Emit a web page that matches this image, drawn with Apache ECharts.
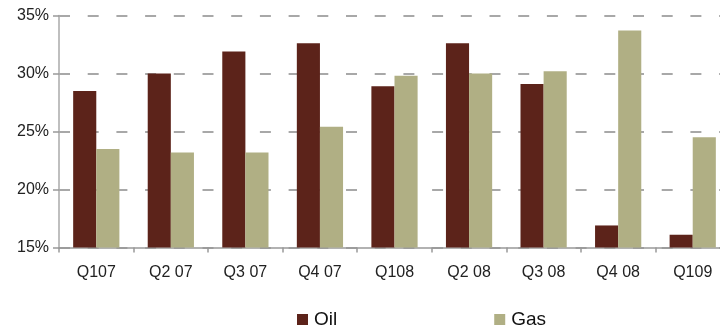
<!DOCTYPE html>
<html>
<head>
<meta charset="utf-8">
<script src="https://cdn.jsdelivr.net/npm/echarts@6/dist/echarts.min.js"></script>
<style>
html,body{margin:0;padding:0;background:#fff;width:720px;height:327px;overflow:hidden;}
#chart{width:731px;height:327px;}
</style>
</head>
<body>
<div id="chart"></div>
<script>
var categories = ['Q107', 'Q2 07', 'Q3 07', 'Q4 07', 'Q108', 'Q2 08', 'Q3 08', 'Q4 08', 'Q109'];
var oilValues = [28.5, 30.0, 31.9, 32.6, 28.9, 32.6, 29.1, 16.9, 16.1];
var gasValues = [23.5, 23.2, 23.2, 25.4, 29.8, 30.0, 30.2, 33.7, 24.5];
var seriesNames = ['Oil', 'Gas'];
var yMin = 15, yMax = 35, yStep = 5;

var chart = echarts.init(document.getElementById('chart'), null, {renderer: 'canvas'});
var font = 'Liberation Sans, Arial, sans-serif';
chart.setOption({
  animation: false,
  grid: {left: 59, top: 15.5, right: 1, bottom: 79.5, containLabel: false},
  legend: {
    data: seriesNames,
    left: 292, top: 305,
    itemWidth: 11, itemHeight: 11, itemGap: 157,
    icon: 'rect',
    textStyle: {fontFamily: font, fontSize: 19, color: '#111', padding: [0, 0, 0, 1]}
  },
  xAxis: {
    type: 'category',
    data: categories,
    boundaryGap: true,
    axisLine: {lineStyle: {color: '#999', width: 1.5}},
    axisTick: {show: true, length: 5, lineStyle: {color: '#999', width: 1.5}},
    axisLabel: {fontFamily: font, fontSize: 16, color: '#222', margin: 17, interval: 0}
  },
  yAxis: {
    type: 'value',
    min: yMin, max: yMax, interval: yStep,
    axisLine: {show: true, lineStyle: {color: '#aaa', width: 1.5}},
    axisTick: {show: true, length: 6, lineStyle: {color: '#999', width: 1.5}},
    axisLabel: {fontFamily: font, fontSize: 16, color: '#222', margin: 10, formatter: '{value}%'},
    splitLine: {show: true, lineStyle: {color: '#8c8c8c', width: 1.5, type: [11, 17.7]}}
  },
  series: [
    {name: seriesNames[0], type: 'bar', data: oilValues, barGap: '0%', barCategoryGap: '38%',
     itemStyle: {color: '#5C231A'}},
    {name: seriesNames[1], type: 'bar', data: gasValues, barGap: '0%', barCategoryGap: '38%',
     itemStyle: {color: '#B0AF84'}}
  ]
});
</script>
</body>
</html>
